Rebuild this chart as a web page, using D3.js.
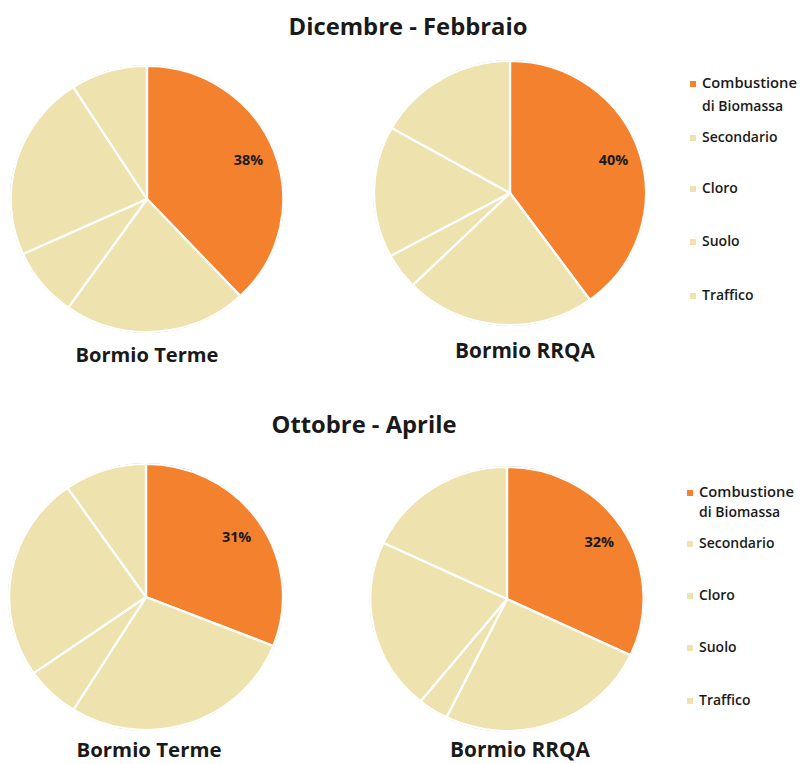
<!DOCTYPE html>
<html>
<head>
<meta charset="utf-8">
<script src="https://cdn.jsdelivr.net/npm/d3@7"></script>
<style>
  html, body { margin: 0; padding: 0; background: #fff; }
  svg { display: block; }
  text { font-family: "Open Sans", "Noto Sans", sans-serif; fill: #1a1a1a; }
</style>
</head>
<body>
<svg id="chart" width="807" height="764"></svg>
<script>
// ---- data ----
const categories = ["Combustione di Biomassa", "Secondario", "Cloro", "Suolo", "Traffico"];
const legendLines = [["Combustione", "di Biomassa"], ["Secondario"], ["Cloro"], ["Suolo"], ["Traffico"]];
const periods = ["Dicembre - Febbraio", "Ottobre - Aprile"];
const sites = ["Bormio Terme", "Bormio RRQA"];
const termeDicFeb = [38, 21.8, 8.4, 22.7, 9.1];
const rrqaDicFeb  = [40, 22.7, 4.4, 16.1, 16.8];
const termeOttApr = [31, 27.9, 6.4, 25.0, 9.7];
const rrqaOttApr  = [32, 25.3, 3.6, 21.1, 18.0];
const sliceColors = ["#F3812E", "#EEE2AE", "#EEE2AE", "#EEE2AE", "#EEE2AE"];

// ---- layout ----
const svg = d3.select("#chart");
const color = d3.scaleOrdinal().domain(categories).range(sliceColors);

const pies = [
  { values: termeDicFeb, cx: 147, cy: 199, ry: 133, sx: 1.025, title: sites[0], tx: 147, ty: 362, tw: 143 },
  { values: rrqaDicFeb,  cx: 510, cy: 193, ry: 132, sx: 1.03,  title: sites[1], tx: 525, ty: 358, tw: 140 },
  { values: termeOttApr, cx: 146, cy: 597, ry: 133, sx: 1.03,  title: sites[0], tx: 149, ty: 757, tw: 145 },
  { values: rrqaOttApr,  cx: 507, cy: 599, ry: 132, sx: 1.035, title: sites[1], tx: 520, ty: 757, tw: 140 }
];

function fitText(sel, targetW) {
  const node = sel.node();
  const fs = parseFloat(sel.attr("font-size"));
  const w = node.getComputedTextLength();
  if (w > 0) sel.attr("font-size", (fs * targetW / w).toFixed(2));
  return sel;
}

// period titles
fitText(svg.append("text").attr("x", 408).attr("y", 35).attr("text-anchor", "middle")
  .attr("font-size", 20).attr("font-weight", 700).text(periods[0]), 239);
fitText(svg.append("text").attr("x", 364).attr("y", 433).attr("text-anchor", "middle")
  .attr("font-size", 20).attr("font-weight", 700).text(periods[1]), 185);

const pieGen = d3.pie().sort(null).value(d => d.v);

pies.forEach(p => {
  const data = categories.map((c, i) => ({ c, v: p.values[i] }));
  const arcs = pieGen(data);
  const arc = d3.arc().innerRadius(0).outerRadius(p.ry);
  const labelArc = d3.arc().innerRadius(p.ry * 0.8).outerRadius(p.ry * 0.8);
  const g = svg.append("g").attr("transform", `translate(${p.cx},${p.cy}) scale(${p.sx},1)`);
  g.append("circle").attr("r", p.ry + 0.4).attr("fill", "none")
    .attr("stroke", "#a9a39a").attr("stroke-width", 0.9);
  g.selectAll("path.slice").data(arcs).enter().append("path")
    .attr("class", "slice")
    .attr("d", arc)
    .attr("fill", d => color(d.data.c))
    .attr("stroke", "#ffffff")
    .attr("stroke-width", 2.2)
    .attr("stroke-linejoin", "round");
  const first = arcs[0];
  const [lx, ly] = labelArc.centroid(first);
  g.append("text").attr("x", lx).attr("y", ly).attr("dy", "0.35em")
    .attr("text-anchor", "middle").attr("font-size", 14).attr("font-weight", 700)
    .text(Math.round(first.data.v) + "%");
  fitText(svg.append("text").attr("x", p.tx).attr("y", p.ty).attr("text-anchor", "middle")
    .attr("font-size", 18).attr("font-weight", 700).text(p.title), p.tw);
});

// legends
const legends = [
  { x: 690, ys: [[88, 111], [142], [193], [246], [300]] },
  { x: 687, ys: [[497, 517], [548], [600], [652], [705]] }
];
legends.forEach(L => {
  categories.forEach((c, i) => {
    const ys = L.ys[i];
    svg.append("rect").attr("x", L.x).attr("y", ys[0] - 7).attr("width", 6).attr("height", 6)
      .attr("fill", color(c));
    legendLines[i].forEach((line, j) => {
      const t = svg.append("text").attr("x", L.x + 12).attr("y", ys[j])
        .attr("font-size", 14).attr("font-weight", 600).text(line);
      if (j === 0 && i === 0) fitText(t, 95);
    });
  });
});
</script>
</body>
</html>
